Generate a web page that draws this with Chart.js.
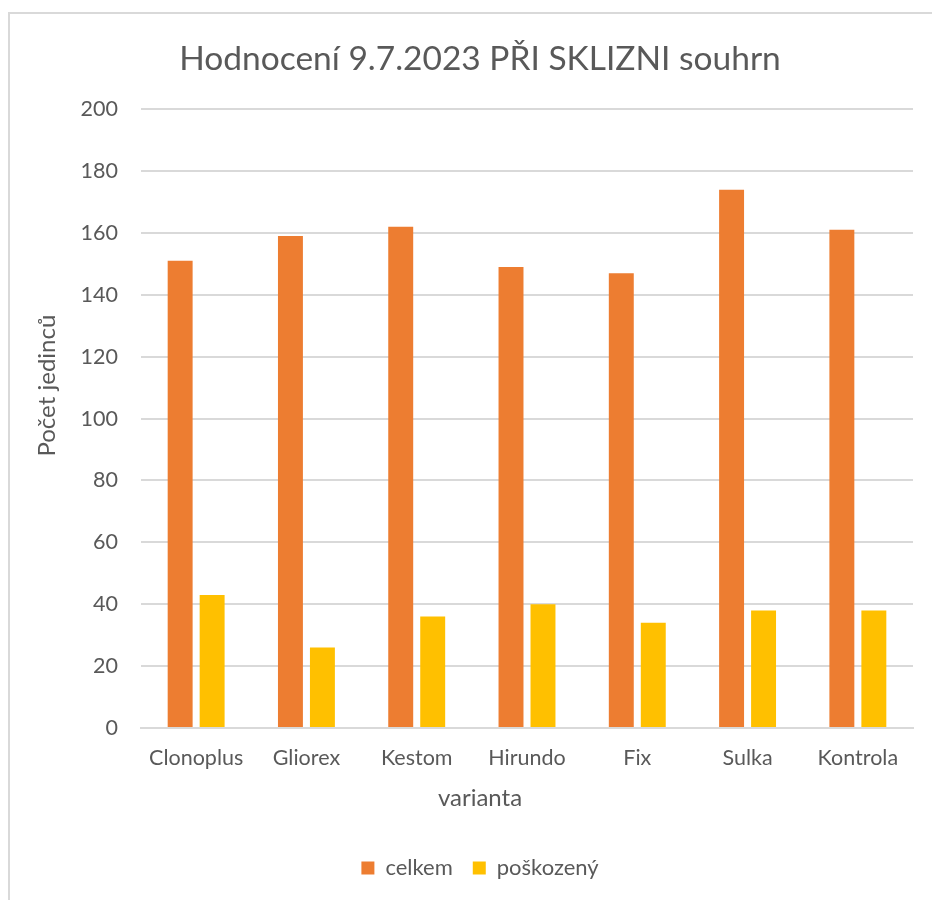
<!DOCTYPE html>
<html>
<head>
<meta charset="utf-8">
<script src="https://cdn.jsdelivr.net/npm/chart.js@4"></script>
<style>
  html, body { margin: 0; padding: 0; background: #fff; overflow: hidden; }
  #frame { position: absolute; left: 8px; top: 12px; width: 1000px; height: 1000px;
           border-left: 2px solid #d9d9d9; border-top: 2px solid #d9d9d9; }
  #wrap { position: absolute; left: 0; top: 0; width: 960px; height: 900px; }
</style>
</head>
<body>
<div id="frame"></div>
<div id="wrap"><canvas id="chart" width="960" height="900"></canvas></div>
<script>
// ---- data ----
const chartTitle = "Hodnocení 9.7.2023 PŘI SKLIZNI souhrn";
const categories = ["Clonoplus", "Gliorex", "Kestom", "Hirundo", "Fix", "Sulka", "Kontrola"];
const celkem = [151, 159, 162, 149, 147, 174, 161];
const poskozeny = [43, 26, 36, 40, 34, 38, 38];
const seriesNames = ["celkem", "poškozený"];
const xTitle = "varianta";
const yTitle = "Počet jedinců";

const textColor = "#595959";
const fontFamily = "Lato, 'Open Sans', sans-serif";

// axis titles drawn centred the way the spreadsheet does it
const axisTitles = {
  id: "axisTitles",
  afterDraw(chart) {
    const { ctx, chartArea: a } = chart;
    ctx.save();
    ctx.fillStyle = textColor;
    ctx.font = "24px " + fontFamily;
    ctx.textAlign = "center";
    ctx.textBaseline = "middle";
    ctx.fillText(xTitle, chart.width / 2, a.bottom + 70);
    ctx.translate(47, (a.top + a.bottom) / 2 - 33);
    ctx.rotate(-Math.PI / 2);
    ctx.fillText(yTitle, 0, 0);
    ctx.restore();
  }
};

new Chart(document.getElementById("chart"), {
  type: "bar",
  data: {
    labels: categories,
    datasets: [
      { label: seriesNames[0], data: celkem, backgroundColor: "#ED7D31" },
      { label: seriesNames[1], data: poskozeny, backgroundColor: "#FFC000" }
    ]
  },
  options: {
    responsive: false,
    animation: false,
    categoryPercentage: 0.58,
    barPercentage: 0.78,
    layout: { padding: { left: 0, right: 0, top: 0, bottom: 11 } },
    plugins: {
      title: {
        display: true, text: chartTitle, color: textColor,
        font: { family: fontFamily, size: 33.5, weight: "normal" },
        padding: { top: 39, bottom: 30 }
      },
      legend: {
        position: "bottom",
        labels: { color: textColor, boxWidth: 13, boxHeight: 13, padding: 20,
                  font: { family: fontFamily, size: 22 } }
      },
      tooltip: { enabled: false }
    },
    scales: {
      x: {
        grid: { display: false },
        border: { color: "#d9d9d9", width: 2 },
        ticks: { color: textColor, padding: 9, font: { family: fontFamily, size: 21.5 } },
        afterFit(s) { s.height = 109; }
      },
      y: {
        min: 0, max: 200,
        grid: { color: "#d9d9d9", lineWidth: 2, drawTicks: false },
        border: { display: false },
        ticks: { stepSize: 20, color: textColor, padding: 23, font: { family: fontFamily, size: 21.5 } },
        afterFit(s) { s.width = 141; }
      },
      // empty right-hand strip, keeps the plot narrower than the centred titles
      spacer: {
        position: "right",
        grid: { display: false },
        border: { display: false },
        ticks: { display: false },
        afterFit(s) { s.width = 47; }
      }
    }
  },
  plugins: [axisTitles]
});
</script>
</body>
</html>
